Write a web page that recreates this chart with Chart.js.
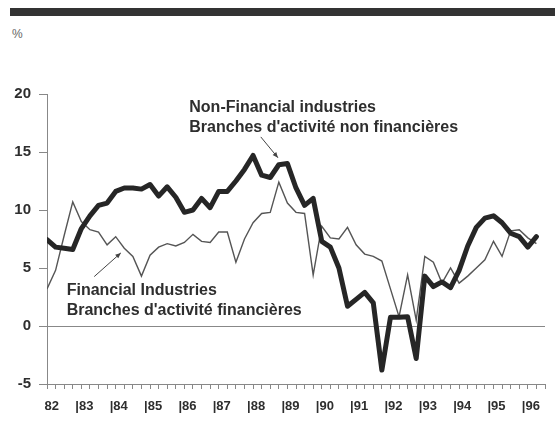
<!DOCTYPE html>
<html>
<head>
<meta charset="utf-8">
<script src="https://cdn.jsdelivr.net/npm/chart.js@4"></script>
<style>
  html, body { margin: 0; padding: 0; background: #fff; }
  #wrap { position: relative; width: 555px; height: 421px; overflow: hidden; }
  #topbar { position: absolute; left: 10px; top: 8px; width: 545px; height: 8px; background: #333; }
  #pct { position: absolute; left: 12px; top: 27px; font: 12px "Liberation Sans", Arial, sans-serif; color: #666; }
  canvas { position: absolute; left: 0; top: 0; }
</style>
</head>
<body>
<div id="wrap">
  <div id="topbar"></div>
  <div id="pct">%</div>
  <canvas id="myChart" width="555" height="421"></canvas>
</div>
<script>
// quarterly data, 1982 Q1 to 1996 Q2
const years = [82, 83, 84, 85, 86, 87, 88, 89, 90, 91, 92, 93, 94, 95, 96];
const yTicks = [-5, 0, 5, 10, 15, 20];

const nonFinancial = [
    7.45, 6.8, 6.7, 6.6,
    8.4, 9.5, 10.4, 10.6,
    11.6, 11.9, 11.9, 11.8,
    12.2, 11.2, 12.0, 11.1,
    9.8, 10.0, 11.0, 10.2,
    11.6, 11.6, 12.5, 13.5,
    14.7, 13.0, 12.8, 13.9,
    14.0, 11.9, 10.4, 11.0,
    7.3, 6.8, 5.0, 1.7,
    2.3, 2.9, 2.0, -3.8,
    0.75, 0.75, 0.8, -2.8,
    4.3, 3.4, 3.8, 3.3,
    4.8, 6.9, 8.5, 9.3,
    9.5, 8.9, 8.0, 7.7,
    6.8, 7.7
];

const financial = [
    3.2, 4.8, 7.8, 10.7,
    9.0, 8.3, 8.1, 7.0,
    7.7, 6.7, 6.0, 4.3,
    6.1, 6.8, 7.1, 6.9,
    7.2, 7.9, 7.3, 7.2,
    8.1, 8.1, 5.5, 7.5,
    8.9, 9.7, 9.8, 12.4,
    10.6, 9.8, 9.7, 4.4,
    8.6, 7.6, 7.5, 8.5,
    7.0, 6.2, 6.0, 5.6,
    3.2, 0.8, 4.4, 0.5,
    6.0, 5.5, 3.7, 5.0,
    3.7, 4.3, 5.0, 5.7,
    7.3, 6.0, 8.2, 8.3,
    7.6, 7.1
];

const toPoints = arr => arr.map((v, i) => ({ x: i, y: v }));

const FONT = '"Liberation Sans", Arial, sans-serif';
const INK = '#2e2e2e';
const AXIS = '#888';

// text labels + arrows, positioned in data units
const notes = [
    { lines: ['Non-Financial industries', "Branches d'activité non financières"], x: 16.57, y: 18.8, gap: 1.72 },
    { lines: ['Financial Industries', "Branches d'activité financières"], x: 2.29, y: 3.05, gap: 1.72 }
];
const arrows = [
    { from: [24.9, 16.3], to: [26.9, 14.5] },
    { from: [5.5, 4.26], to: [8.6, 6.3] }
];

const notesPlugin = {
    id: 'notes',
    afterDatasetsDraw(chart) {
        const c = chart.ctx;
        const xs = chart.scales.x, ys = chart.scales.y;
        c.save();
        c.fillStyle = INK;
        c.font = 'bold 16px ' + FONT;
        c.textBaseline = 'middle';
        notes.forEach(n => {
            n.lines.forEach((t, k) => {
                c.fillText(t, xs.getPixelForValue(n.x), ys.getPixelForValue(n.y - k * n.gap));
            });
        });
        c.strokeStyle = '#444';
        c.lineWidth = 1;
        arrows.forEach(a => {
            const x1 = xs.getPixelForValue(a.from[0]), y1 = ys.getPixelForValue(a.from[1]);
            const x2 = xs.getPixelForValue(a.to[0]), y2 = ys.getPixelForValue(a.to[1]);
            c.beginPath();
            c.moveTo(x1, y1);
            c.lineTo(x2, y2);
            c.stroke();
            const ang = Math.atan2(y2 - y1, x2 - x1);
            c.beginPath();
            c.moveTo(x2, y2);
            c.lineTo(x2 - 6 * Math.cos(ang - 0.4), y2 - 6 * Math.sin(ang - 0.4));
            c.lineTo(x2 - 6 * Math.cos(ang + 0.4), y2 - 6 * Math.sin(ang + 0.4));
            c.closePath();
            c.fillStyle = '#444';
            c.fill();
        });
        c.restore();
    }
};

const config = {
    type: 'line',
    data: {
        datasets: [
            {
                label: 'Non-Financial industries',
                data: toPoints(nonFinancial),
                borderColor: '#262626',
                borderWidth: 5,
                borderJoinStyle: 'round',
                borderCapStyle: 'round',
                pointRadius: 0,
                tension: 0
            },
            {
                label: 'Financial Industries',
                data: toPoints(financial),
                borderColor: '#555',
                borderWidth: 1.4,
                pointRadius: 0,
                tension: 0
            }
        ]
    },
    options: {
        responsive: false,
        animation: false,
        layout: { padding: { top: 94, left: 0, right: 0, bottom: 0 } },
        plugins: {
            legend: { display: false },
            tooltip: { enabled: false }
        },
        scales: {
            x: {
                type: 'linear',
                min: 0,
                max: 58,
                afterBuildTicks: scale => {
                    scale.ticks = Array.from({ length: 59 }, (_, i) => ({ value: i }));
                },
                afterFit: scale => { scale.height = 37; },
                ticks: {
                    autoSkip: false,
                    maxRotation: 0,
                    align: 'start',
                    labelOffset: -6,
                    padding: 10,
                    color: INK,
                    font: { family: FONT, size: 13, weight: 'bold' },
                    callback: v => {
                        if (v % 4 !== 0) return '';
                        const yr = years[v / 4];
                        if (yr === undefined) return '';
                        return v === 0 ? ' ' + yr : '|' + yr;
                    }
                },
                grid: { drawOnChartArea: false, tickLength: 5, color: AXIS },
                border: { display: true, color: AXIS, width: 1 }
            },
            y: {
                min: -5,
                max: 20,
                afterBuildTicks: scale => {
                    scale.ticks = yTicks.map(v => ({ value: v }));
                },
                afterFit: scale => { scale.width = 47; },
                ticks: {
                    padding: 8,
                    color: INK,
                    font: { family: FONT, size: 15, weight: 'bold' }
                },
                grid: {
                    tickLength: 8,
                    color: ctx => (ctx.tick && ctx.tick.value === 0 ? AXIS : 'rgba(0,0,0,0)'),
                    tickColor: AXIS
                },
                border: { display: true, color: AXIS, width: 1 }
            }
        }
    },
    plugins: [notesPlugin]
};

const ctx = document.getElementById('myChart');
const myChart = new Chart(ctx, config);
</script>
</body>
</html>
